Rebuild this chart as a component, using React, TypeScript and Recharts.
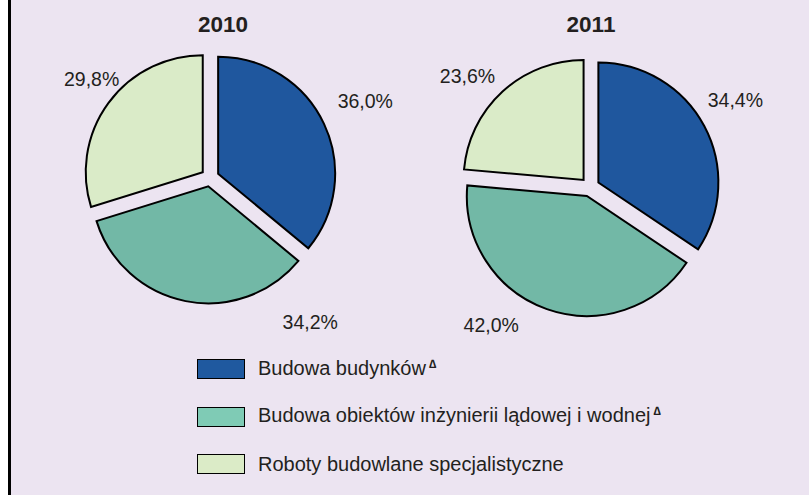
import React from 'react'
import { PieChart, Pie, Cell } from 'recharts'

// Struktura produkcji budowlano-montażowej wg działów
const categories = [
  'Budowa budynków',
  'Budowa obiektów inżynierii lądowej i wodnej',
  'Roboty budowlane specjalistyczne',
]
const categoryMarked = [true, true, false]
const years = ['2010', '2011']
const share2010 = [36.0, 34.2, 29.8]
const share2011 = [34.4, 42.0, 23.6]

const PIE_COLORS = ['#1F579E', '#72B8A6', '#DAEBC8']
const LEGEND_COLORS = ['#1F599F', '#7FCBB5', '#DBEBC7']
const TEXT = '#231F20'
const FONT = '"Liberation Sans", Arial, sans-serif'

// uklad kazdego z dwoch wykresow
const layouts = [
  { cx: 210, cy: 177.5, r: 117, explode: 9, titleX: 223, labelShift: [1, 48, -3.6], labelR: [164, 170, 145] },
  { cx: 590, cy: 187, r: 120, explode: 9.5, titleX: 591, labelShift: [3, -17, 5.6], labelR: [160, 161, 156] },
]

const RAD = Math.PI / 180

const midAngles = (values: number[]) => {
  const total = values.reduce((s, v) => s + v, 0)
  let acc = 0
  return values.map((v) => {
    const m = 90 - (360 * (acc + v / 2)) / total
    acc += v
    return m
  })
}

const fmt = (v: number) => `${v.toFixed(1).replace('.', ',')}%`

export default function App() {
  const series = [share2010, share2011]

  const pies: React.ReactNode[] = []
  series.forEach((values, p) => {
    const lay = layouts[p]
    const data = categories.map((name, i) => ({ name, value: values[i] }))
    const mids = midAngles(values)
    // jeden Pie na wycinek, przesuniety wzdluz swojego kata (wysuniecie)
    categories.forEach((_, s) => {
      const dx = lay.explode * Math.cos(mids[s] * RAD)
      const dy = -lay.explode * Math.sin(mids[s] * RAD)
      pies.push(
        <Pie
          key={`pie-${p}-${s}`}
          data={data}
          dataKey="value"
          nameKey="name"
          cx={lay.cx + dx}
          cy={lay.cy + dy}
          outerRadius={lay.r}
          innerRadius={0}
          startAngle={90}
          endAngle={-270}
          isAnimationActive={false}
          labelLine={false}
          label={(props: any) => {
            if (props.index !== s) return null
            const a = (props.midAngle + lay.labelShift[s]) * RAD
            const R = lay.labelR[s]
            const x = props.cx + R * Math.cos(a)
            const y = props.cy - R * Math.sin(a)
            return (
              <text
                x={x}
                y={y}
                textAnchor="middle"
                dominantBaseline="central"
                fill={TEXT}
                fontSize={19.5}
                fontFamily={FONT}
              >
                {fmt(props.value)}
              </text>
            )
          }}
        >
          {data.map((entry, i) => (
            <Cell
              key={`cell-${i}`}
              fill={i === s ? PIE_COLORS[i] : 'transparent'}
              stroke={i === s ? '#000' : 'none'}
              strokeWidth={i === s ? 2 : 0}
            />
          ))}
        </Pie>
      )
    })
  })

  return (
    <div
      style={{
        position: 'absolute',
        left: 0,
        top: 0,
        width: 809,
        height: 495,
        background: '#fff',
        overflow: 'hidden',
      }}
    >
      <div style={{ position: 'absolute', left: 10, top: 0, width: 799, height: 495, background: '#ECE4F1' }} />
      <div style={{ position: 'absolute', left: 8, top: 0, width: 2.5, height: 495, background: '#000' }} />
      <div style={{ position: 'absolute', left: 0, top: 0 }}>
        <PieChart width={809} height={495} margin={{ top: 0, right: 0, bottom: 0, left: 0 }}>
          {years.map((y, i) => (
            <text
              key={y}
              x={layouts[i].titleX}
              y={24}
              textAnchor="middle"
              dominantBaseline="central"
              fill={TEXT}
              fontSize={22.5}
              fontWeight="bold"
              fontFamily={FONT}
            >
              {y}
            </text>
          ))}
          {pies}
        </PieChart>
      </div>
      {/* Legenda */}
      <div style={{ position: 'absolute', left: 197, top: 359, fontFamily: FONT, color: TEXT }}>
        {categories.map((name, i) => (
          <div
            key={name}
            style={{ display: 'flex', alignItems: 'center', height: 20, marginBottom: 27.5 }}
          >
            <div
              style={{
                width: 48,
                height: 20,
                boxSizing: 'border-box',
                border: '1.5px solid #000',
                background: LEGEND_COLORS[i],
              }}
            />
            <span style={{ marginLeft: 13, fontSize: 20, lineHeight: '20px', whiteSpace: 'nowrap' }}>
              {name}
              {categoryMarked[i] && (
                <span
                  style={{ fontSize: 12, fontWeight: 'bold', position: 'relative', top: -7, marginLeft: 3 }}
                >
                  ∆
                </span>
              )}
            </span>
          </div>
        ))}
      </div>
    </div>
  )
}
